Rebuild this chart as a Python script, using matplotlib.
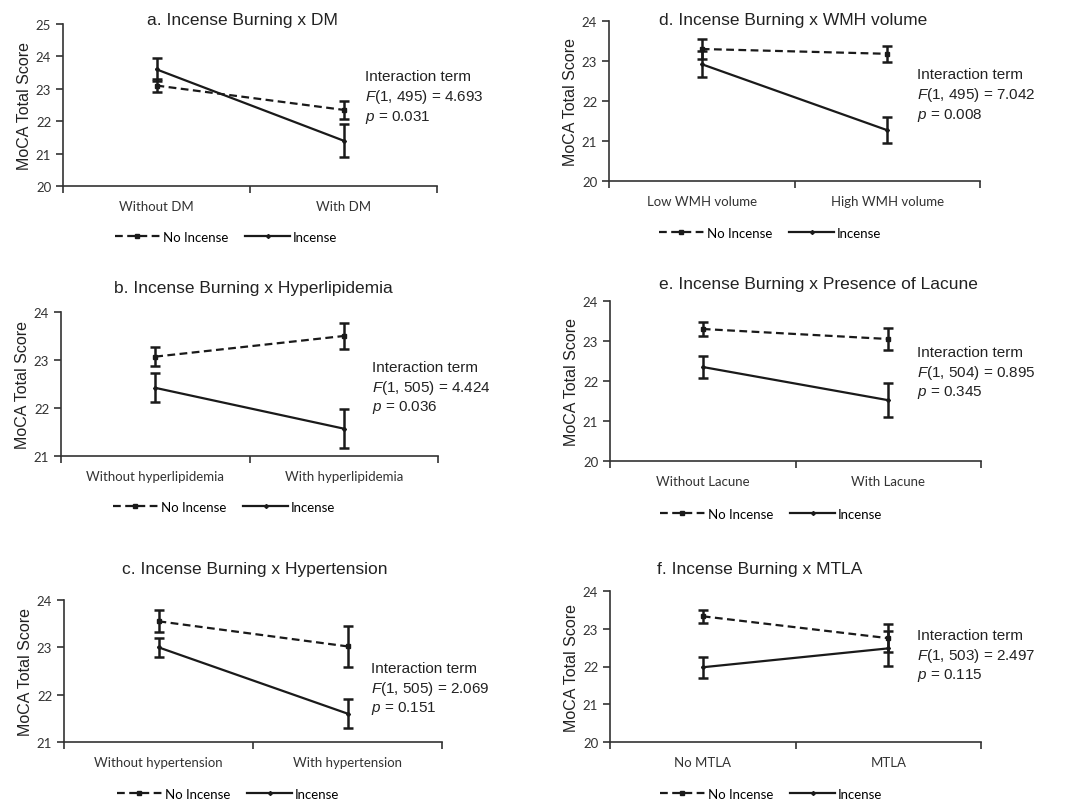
import matplotlib
matplotlib.use('Agg')
import matplotlib.pyplot as plt
from matplotlib.lines import Line2D

plt.rcParams['font.family'] = ['Liberation Sans', 'DejaVu Sans']
plt.rcParams['mathtext.fontset'] = 'custom'
plt.rcParams['mathtext.rm'] = 'Liberation Sans'
plt.rcParams['mathtext.it'] = 'Liberation Sans:italic'

# data, one entry per panel a-f
titles = ['a. Incense Burning x DM', 'b. Incense Burning x Hyperlipidemia',
          'c. Incense Burning x Hypertension', 'd. Incense Burning x WMH volume',
          'e. Incense Burning x Presence of Lacune', 'f. Incense Burning x MTLA']
categories = [['Without DM', 'With DM'],
              ['Without hyperlipidemia', 'With hyperlipidemia'],
              ['Without hypertension', 'With hypertension'],
              ['Low WMH volume', 'High WMH volume'],
              ['Without Lacune', 'With Lacune'],
              ['No MTLA', 'MTLA']]
no_incense = [[23.1, 22.35], [23.07, 23.5], [23.55, 23.02],
              [23.3, 23.18], [23.3, 23.05], [23.33, 22.75]]
no_incense_err = [[0.2, 0.27], [0.2, 0.28], [0.23, 0.43],
                  [0.25, 0.2], [0.18, 0.28], [0.17, 0.37]]
incense = [[23.6, 21.4], [22.42, 21.57], [23.0, 21.6],
           [22.92, 21.27], [22.35, 21.52], [21.98, 22.48]]
incense_err = [[0.35, 0.5], [0.3, 0.4], [0.2, 0.3],
               [0.32, 0.33], [0.28, 0.42], [0.28, 0.46]]
y_limits = [(20, 25), (21, 24), (21, 24), (20, 24), (20, 24), (20, 24)]
f_stats = ['(1, 495) = 4.693', '(1, 505) = 4.424', '(1, 505) = 2.069',
           '(1, 495) = 7.042', '(1, 504) = 0.895', '(1, 503) = 2.497']
p_values = ['0.031', '0.036', '0.151', '0.008', '0.345', '0.115']

# layout in pixels: axes (left, right, top, bottom), title (x, y), note (x, y), legend (x, y)
W, H = 1069, 803
axes_px = [(63, 437, 25, 187), (61, 438, 313, 457), (64, 442, 601, 743),
           (609, 980, 22, 182), (610, 981, 302, 462), (610, 981, 592, 743)]
title_px = [(242, 20), (253, 288), (255, 570), (793, 20), (818, 285), (760, 570)]
note_px = [(365, 77), (372, 368), (371, 669), (917, 75), (917, 353), (917, 636)]
legend_px = [(226, 238), (224, 508), (228, 795), (770, 234), (771, 515), (771, 795)]

fig = plt.figure(figsize=(W / 100, H / 100), dpi=100)
ink = '#1a1a1a'

for i in range(6):
    l, r, t, b = axes_px[i]
    ax = fig.add_axes([l / W, 1 - b / H, (r - l) / W, (b - t) / H])
    x = [0, 1]
    ax.plot(x, no_incense[i], ls=(0, (3.5, 2)), color=ink, lw=1.6,
            marker='s', ms=2.5)
    ax.plot(x, incense[i], ls='-', color=ink, lw=1.6, marker='D', ms=2)
    ax.errorbar(x, no_incense[i], yerr=no_incense_err[i], fmt='none',
                ecolor=ink, elinewidth=1.8, capsize=3.5, capthick=1.8)
    ax.errorbar(x, incense[i], yerr=incense_err[i], fmt='none',
                ecolor=ink, elinewidth=1.8, capsize=3.5, capthick=1.8)
    ax.set_xlim(-0.5, 1.5)
    ax.set_ylim(*y_limits[i])
    ax.set_yticks(range(y_limits[i][0], y_limits[i][1] + 1))
    ax.set_xticks(x)
    ax.set_xticklabels(categories[i])
    ax.set_xticks([-0.5, 0.5, 1.5], minor=True)
    ax.tick_params(axis='x', which='major', length=0, pad=10, labelsize=9.5,
                   labelcolor='#333333')
    ax.tick_params(axis='x', which='minor', length=5, width=1.2, direction='out',
                   color='#333333')
    ax.tick_params(axis='y', length=5, width=1.2, color='#333333', labelsize=9.5,
                   labelcolor='#333333')
    for lab in ax.get_xticklabels() + ax.get_yticklabels():
        lab.set_family(['Lato', 'DejaVu Sans'])
    for s in ['top', 'right']:
        ax.spines[s].set_visible(False)
    for s in ['left', 'bottom']:
        ax.spines[s].set_color('#333333')
        ax.spines[s].set_linewidth(1.2)
    ax.set_ylabel('MoCA Total Score', fontsize=11.5, color='#222222', labelpad=3)

    tx, ty = title_px[i]
    fig.text(tx / W, 1 - ty / H, titles[i], fontsize=12.5, ha='center',
             va='center', color='#222222')

    nx, ny = note_px[i]
    fig.text(nx / W, 1 - ny / H, 'Interaction term', fontsize=11, va='center',
             color='#222222')
    fig.text(nx / W, 1 - (ny + 20) / H, r'$\mathit{F}$' + f_stats[i], fontsize=11,
             va='center', color='#222222')
    fig.text(nx / W, 1 - (ny + 40) / H, r'$\mathit{p}$ = ' + p_values[i],
             fontsize=11, va='center', color='#222222')

    handles = [Line2D([], [], ls=(0, (3.5, 2)), color=ink, lw=1.6, marker='s', ms=2.5),
               Line2D([], [], ls='-', color=ink, lw=1.6, marker='D', ms=2)]
    lx, ly = legend_px[i]
    fig.legend(handles, ['No Incense', 'Incense'], loc='center',
               bbox_to_anchor=(lx / W, 1 - ly / H), ncol=2, frameon=False,
               handlelength=3.4, handletextpad=0.2, columnspacing=1.3,
               prop={'family': ['Lato', 'DejaVu Sans'], 'size': 9.5})

fig.savefig('out.png', dpi=100, facecolor='white')
